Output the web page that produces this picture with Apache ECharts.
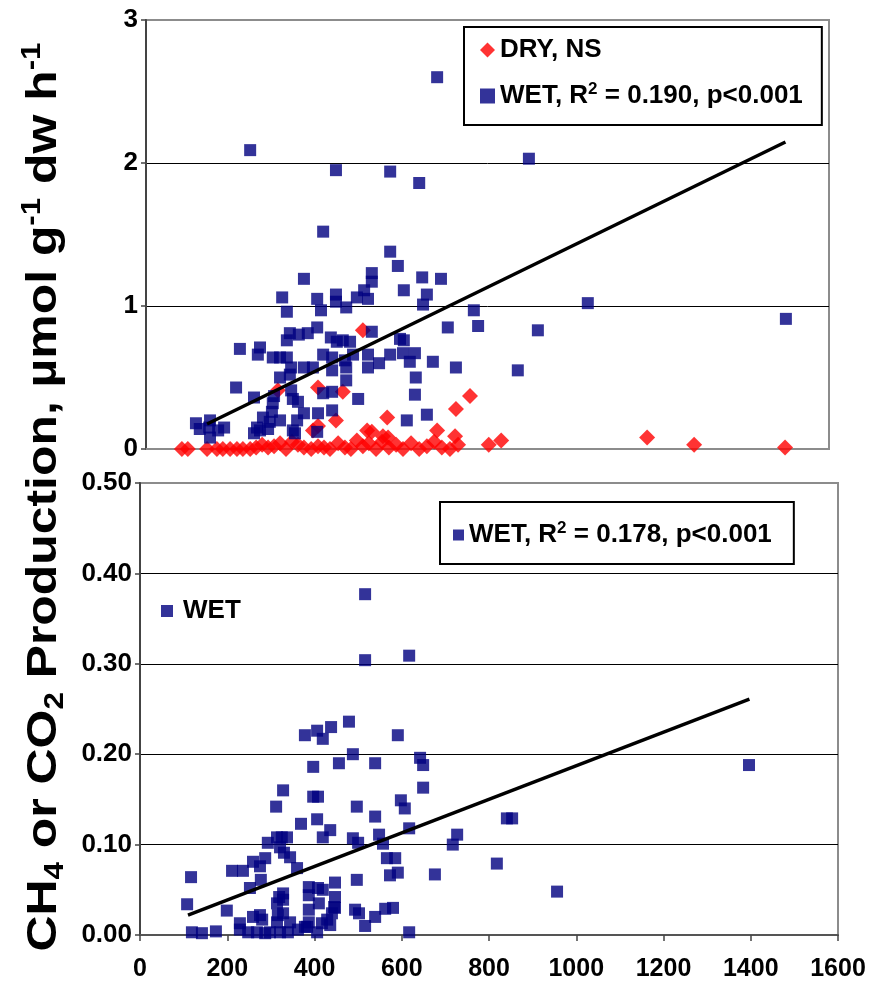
<!DOCTYPE html>
<html>
<head>
<meta charset="UTF-8">
<title>CH4 / CO2 production</title>
<script src="https://cdn.jsdelivr.net/npm/echarts@6/dist/echarts.min.js"></script>
<style>
    html, body { margin: 0; padding: 0; background: #fff; }
    #main { width: 873px; height: 987px; }
</style>
</head>
<body>
<div id="main"></div>
<script>
    // x ticks shared by both panels
    var xTicks = [0, 200, 400, 600, 800, 1000, 1200, 1400, 1600];

    // top panel: WET squares
    var topWet = [
        [244,2.09],[445,1.95],[572,1.94],[640,1.86],[682,2.60],[897,2.03],[1035,1.02],[918,0.83],[871,0.55],[1499,0.91],[778,0.86],[768,0.97],
        [415,1.52],[572,1.38],[590,1.28],[370,1.19],[529,1.23],[529,1.17],[647,1.20],[691,1.19],[604,1.11],[319,1.06],[401,1.05],[445,1.08],
        [445,1.03],[469,0.99],[494,1.06],[511,1.11],[520,1.05],[410,0.97],[649,1.01],[658,1.08],[330,0.96],[707,0.85],[529,0.82],[337,0.81],
        [358,0.80],[379,0.81],[401,0.85],[330,0.76],[433,0.78],[447,0.75],[461,0.76],[478,0.75],[595,0.77],[604,0.76],[220,0.70],[267,0.71],
        [262,0.66],[297,0.64],[314,0.64],[330,0.64],[415,0.66],[436,0.64],[466,0.62],[485,0.66],[520,0.66],[520,0.57],[546,0.60],[572,0.66],
        [602,0.67],[618,0.61],[630,0.67],[672,0.61],[726,0.57],[340,0.57],[370,0.57],[391,0.57],[436,0.55],[469,0.57],[469,0.48],[314,0.50],
        [337,0.52],[632,0.50],[211,0.43],[253,0.36],[300,0.37],[297,0.32],[340,0.41],[344,0.35],[356,0.33],[415,0.39],[436,0.40],[497,0.35],
        [630,0.38],[295,0.26],[274,0.22],[290,0.19],[314,0.20],[370,0.25],[354,0.20],[403,0.25],[436,0.27],[658,0.24],[611,0.20],[260,0.15],
        [117,0.18],[126,0.14],[150,0.20],[148,0.15],[150,0.08],[183,0.15],[169,0.13],[253,0.11],[286,0.14],[267,0.13],[349,0.11],[344,0.13],
        [401,0.12]
    ];

    // top panel: DRY diamonds
    var topDry = [
        [508,0.83],[309,0.41],[403,0.43],[461,0.40],[445,0.20],[565,0.22],[726,0.28],[759,0.37],[391,0.13],[403,0.16],[518,0.13],[529,0.12],
        [555,0.09],[567,0.08],[682,0.13],[724,0.09],[803,0.03],[832,0.06],[1174,0.08],[1284,0.03],[1497,0.01],
        [84,0],[98,0],[143,0],[166,0],[180,0],[197,0],[213,0],[227,0],[244,0],[258,0.01],[272,0.03],[286,0.01],[300,0.02],[314,0.04],
        [328,0],[342,0.05],[356,0.03],[370,0.01],[387,0],[403,0.02],[417,0.01],[431,0],[450,0.04],[466,0.01],[480,0],[494,0.06],[508,0.02],
        [522,0.04],[539,0],[553,0.05],[569,0.01],[586,0.03],[602,0],[621,0.04],[640,0],[658,0.02],[675,0.05],[693,0.01],[712,0],[731,0.03]
    ];

    // bottom panel: WET squares
    var bottomWet = [
        [516,0.377],[516,0.304],[617,0.309],[479,0.236],[378,0.221],[406,0.226],[419,0.217],[438,0.230],[591,0.221],[488,0.200],[456,0.190],
        [397,0.186],[539,0.190],[642,0.196],[649,0.188],[328,0.160],[649,0.163],[397,0.153],[408,0.153],[598,0.149],[607,0.140],[312,0.142],
        [497,0.142],[369,0.123],[406,0.128],[436,0.116],[419,0.108],[539,0.131],[617,0.118],[488,0.107],[500,0.102],[548,0.111],[557,0.101],
        [717,0.100],[727,0.111],[293,0.102],[314,0.108],[325,0.108],[337,0.108],[321,0.097],[330,0.091],[344,0.086],[566,0.085],[585,0.085],
        [591,0.069],[573,0.066],[676,0.067],[497,0.061],[360,0.074],[117,0.064],[211,0.071],[236,0.071],[259,0.081],[275,0.076],[287,0.085],
        [277,0.061],[387,0.053],[408,0.052],[419,0.050],[447,0.058],[447,0.042],[447,0.030],[387,0.044],[387,0.028],[410,0.035],[252,0.052],
        [108,0.034],[199,0.027],[229,0.013],[275,0.022],[259,0.020],[280,0.017],[314,0.035],[316,0.022],[314,0.014],[319,0.042],[328,0.046],
        [328,0.024],[344,0.014],[362,0.006],[339,0.003],[378,0.009],[387,0.014],[406,0.003],[440,0.024],[429,0.017],[445,0.031],[493,0.028],
        [502,0.024],[516,0.010],[539,0.020],[562,0.029],[580,0.030],[617,0.003],[119,0.003],[142,0.002],[174,0.004],[229,0.006],[248,0.003],
        [268,0.003],[287,0.002],[298,0.003],[417,0.013],[1396,0.188],[841,0.129],[853,0.129],[818,0.079],[956,0.048],[321,0.003],[383,0.009],
        [436,0.011],[328,0.039]
    ];

    // fitted lines (end points)
    var topTrend = [[143, 0.175], [1498, 2.147]];
    var bottomTrend = [[110, 0.022], [1397, 0.261]];

    var topYTicks = [0, 1, 2, 3];
    var bottomYTicks = [0, 0.1, 0.2, 0.3, 0.4, 0.5];

    var dryName = 'DRY, NS';
    var wetTopName = 'WET, R2 = 0.190, p<0.001';
    var wetBottomName = 'WET, R2 = 0.178, p<0.001';

    var FONT = "'Liberation Sans', Arial, sans-serif";
    var NAVY = '#000080';
    var RED = '#ff0000';

    var legendRich = {
        t: { fontSize: 26, fontWeight: 'bold', fontFamily: FONT, color: '#000', lineHeight: 30 },
        s: { fontSize: 17, fontWeight: 'bold', fontFamily: FONT, color: '#000', lineHeight: 26, verticalAlign: 'top' },
        w: { fontSize: 26, fontWeight: 'bold', fontFamily: FONT, color: '#000', lineHeight: 30, padding: [0, 0, 0, 5] }
    };
    function legendLabel(name) {
        if (name === 'WET') return '{w|WET}';
        var m = name.match(/^(.*R)2(.*)$/);
        if (m) return '{t|' + m[1] + '}{s|2}{t|' + m[2] + '}';
        return '{t|' + name + '}';
    }

    function yAxis(gridIndex, ticks, fmt) {
        var n = ticks.length;
        var colors = ticks.map(function (v, i) { return (i === 0 || i === n - 1) ? '#8c8c8c' : '#000'; });
        return {
            type: 'value', gridIndex: gridIndex,
            min: ticks[0], max: ticks[n - 1], interval: ticks[1] - ticks[0],
            axisLine: { show: true, lineStyle: { color: '#444', width: 2 } },
            axisTick: { show: true, length: 5, lineStyle: { color: '#444', width: 1.5 } },
            axisLabel: { fontSize: 26, fontWeight: 'bold', fontFamily: FONT, color: '#000', margin: 8, formatter: fmt },
            splitLine: { show: true, lineStyle: { color: colors, width: 1 } }
        };
    }

    var myChart = echarts.init(document.getElementById('main'), null, { renderer: 'canvas' });
    myChart.setOption({
        animation: false,
        backgroundColor: '#fff',
        grid: [
            { left: 146, top: 20, right: 44, bottom: 538, show: true, borderColor: '#8c8c8c', borderWidth: 2 },
            { left: 140, top: 483, right: 35, bottom: 52, show: true, borderColor: '#8c8c8c', borderWidth: 2 }
        ],
        xAxis: [
            {
                type: 'value', gridIndex: 0, min: xTicks[0], max: xTicks[xTicks.length - 1], interval: xTicks[1] - xTicks[0],
                axisLine: { show: true, lineStyle: { color: '#8c8c8c', width: 2 } },
                axisTick: { show: false }, axisLabel: { show: false }, splitLine: { show: false }
            },
            {
                type: 'value', gridIndex: 1, min: xTicks[0], max: xTicks[xTicks.length - 1], interval: xTicks[1] - xTicks[0],
                axisLine: { show: true, lineStyle: { color: '#555', width: 2 } },
                axisTick: { show: true, length: 6, lineStyle: { color: '#444', width: 1.5 } },
                axisLabel: {
                    fontSize: 25, fontWeight: 'bold', fontFamily: FONT, color: '#000', margin: 22,
                    formatter: function (v) { return String(v); }
                },
                splitLine: { show: false }
            }
        ],
        yAxis: [
            yAxis(0, topYTicks, function (v) { return String(v); }),
            yAxis(1, bottomYTicks, function (v) { return v.toFixed(2); })
        ],
        legend: [
            {
                left: 464, top: 27, orient: 'vertical',
                data: [{ name: dryName, icon: 'diamond' }, { name: wetTopName, icon: 'rect' }],
                borderColor: '#000', borderWidth: 2, padding: [10, 19, 16, 16], itemGap: 18,
                itemWidth: 15, itemHeight: 15, selectedMode: false,
                textStyle: { rich: legendRich }, formatter: legendLabel
            },
            {
                left: 440, top: 502, orient: 'vertical',
                data: [{ name: wetBottomName, icon: 'rect' }],
                borderColor: '#000', borderWidth: 2, padding: [18, 22, 16, 13],
                itemWidth: 11, itemHeight: 11, selectedMode: false,
                textStyle: { rich: legendRich }, formatter: legendLabel
            },
            {
                left: 161, top: 598, orient: 'vertical',
                data: [{ name: 'WET', icon: 'rect' }],
                padding: 0, itemWidth: 12, itemHeight: 12, selectedMode: false,
                textStyle: { rich: legendRich }, formatter: legendLabel
            }
        ],
        graphic: [
            {
                type: 'text', x: 44, y: 497, rotation: Math.PI / 2, scaleX: 1.16,
                style: {
                    text: '{b|CH}{d|4}{b| or CO}{d|2}{b| Production, \u00b5mol g}{u|-1}{b| dw h}{u|-1}',
                    align: 'center', verticalAlign: 'middle',
                    rich: {
                        b: { fontSize: 43, fontWeight: 'bold', fontFamily: FONT, fill: '#000', lineHeight: 50 },
                        d: { fontSize: 27, fontWeight: 'bold', fontFamily: FONT, fill: '#000', lineHeight: 26, verticalAlign: 'bottom' },
                        u: { fontSize: 27, fontWeight: 'bold', fontFamily: FONT, fill: '#000', lineHeight: 30, verticalAlign: 'top' }
                    }
                }
            }
        ],
        series: [
            {
                name: dryName, type: 'scatter', xAxisIndex: 0, yAxisIndex: 0,
                symbol: 'diamond', symbolSize: 16, data: topDry,
                itemStyle: { color: RED }
            },
            {
                name: wetTopName, type: 'scatter', xAxisIndex: 0, yAxisIndex: 0,
                symbol: 'rect', symbolSize: 12, data: topWet,
                itemStyle: { color: NAVY }
            },
            {
                type: 'line', xAxisIndex: 0, yAxisIndex: 0, data: topTrend, z: 5,
                showSymbol: false, lineStyle: { color: '#000', width: 3.5 }
            },
            {
                name: wetBottomName, type: 'scatter', xAxisIndex: 1, yAxisIndex: 1,
                symbol: 'rect', symbolSize: 12, data: bottomWet,
                itemStyle: { color: NAVY }
            },
            {
                name: 'WET', type: 'scatter', xAxisIndex: 1, yAxisIndex: 1,
                symbol: 'rect', symbolSize: 12, data: [],
                itemStyle: { color: NAVY }
            },
            {
                type: 'line', xAxisIndex: 1, yAxisIndex: 1, data: bottomTrend, z: 5,
                showSymbol: false, lineStyle: { color: '#000', width: 3.5 }
            }
        ]
    });
</script>
</body>
</html>
